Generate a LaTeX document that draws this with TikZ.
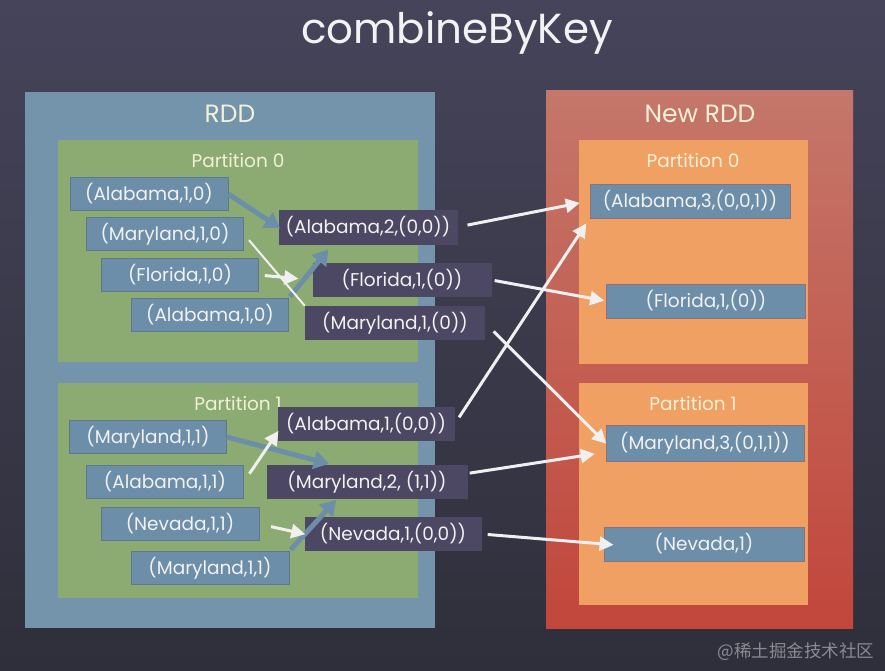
\documentclass[tikz,border=0pt]{standalone}
\usepackage{fontspec}
\setmainfont{Poppins}
\newfontfamily\cjk{Noto Sans CJK SC}
\usetikzlibrary{arrows.meta,calc}
\definecolor{bgtop}{HTML}{46445A}
\definecolor{bgbot}{HTML}{2F2F3B}
\definecolor{rddblue}{HTML}{7494AB}
\definecolor{partgreen}{HTML}{8CAB72}
\definecolor{itemblue}{HTML}{6D8EA9}
\definecolor{itemdark}{HTML}{4C4762}
\definecolor{newtop}{HTML}{C4776A}
\definecolor{newbot}{HTML}{C2463B}
\definecolor{partorange}{HTML}{EFA062}
\definecolor{labelcream}{HTML}{F2F0D8}
\definecolor{wm}{HTML}{8A8A95}
\tikzset{
  itemtext/.style={text=white!95!black, font=\fontsize{18.5}{20}\selectfont, inner sep=0pt, minimum height=33pt},
  lbox/.style={itemtext, fill=itemblue, draw=itemblue!85!black, line width=0.6pt},
  dbox/.style={itemtext, fill=itemdark},
  rbox/.style={itemtext, fill=itemblue, draw=itemblue!60!newbot, line width=0.8pt},
  plabel/.style={text=labelcream, font=\fontsize{18.5}{20}\selectfont},
  rlabel/.style={text=labelcream, font=\fontsize{25}{28}\selectfont},
  warrow/.style={draw=white!94!black, line width=3pt, -{Triangle[length=14pt,width=14pt]}},
  wline/.style={draw=white!94!black, line width=2pt},
  barrow/.style={draw=itemblue, line width=5pt, -{Triangle[length=15pt,width=18pt]}},
}
\begin{document}
\begin{tikzpicture}[x=1pt,y=-1pt]
\shade[top color=bgtop,bottom color=bgbot] (0,0) rectangle (885,670);
\useasboundingbox (0,0) rectangle (885,670);
% title
\node[text=white!95!black, font=\fontsize{42}{46}\selectfont] (title) at (457,33) {combineByKey};
% left RDD
\fill[rddblue] (25,92) rectangle (435,628);
\fill[partgreen] (58,140) rectangle (418,362);
\fill[partgreen] (58,383) rectangle (418,598);
\node[rlabel] (rddl) at (230,114) {RDD};
\node[plabel] (p0l) at (238,161) {Partition 0};
\node[plabel] (p1l) at (238,404) {Partition 1};
% right RDD
\shade[top color=newtop,bottom color=newbot] (546,90) rectangle (853,628);
\fill[partorange] (579,140) rectangle (808,364);
\fill[partorange] (579,383) rectangle (808,605);
\node[rlabel] (nrddl) at (700,114) {New RDD};
\node[plabel] (np0l) at (693,161) {Partition 0};
\node[plabel] (np1l) at (693,404) {Partition 1};
% left partition 0 items
\node[lbox, minimum width=158pt] (la1) at (149,194) {(Alabama,1,0)};
\node[lbox, minimum width=157pt] (lm1) at (165,234) {(Maryland,1,0)};
\node[lbox, minimum width=157pt] (lf1) at (180,275) {(Florida,1,0)};
\node[lbox, minimum width=157pt] (la2) at (210,315) {(Alabama,1,0)};
% left partition 1 items
\node[lbox, minimum width=157pt] (lm2) at (148,437) {(Maryland,1,1)};
\node[lbox, minimum width=157pt] (la3) at (165,482) {(Alabama,1,1)};
\node[lbox, minimum width=158pt] (ln1) at (180,524) {(Nevada,1,1)};
\node[lbox, minimum width=158pt] (lm3) at (210,568) {(Maryland,1,1)};
% dark combined items
\node[dbox, minimum width=179pt, minimum height=35pt] (da2) at (368,227) {(Alabama,2,(0,0))};
\node[dbox, minimum width=179pt, minimum height=34pt] (df1) at (402,280) {(Florida,1,(0))};
\node[dbox, minimum width=180pt, minimum height=34pt] (dm1) at (395,323) {(Maryland,1,(0))};
\node[dbox, minimum width=177pt, minimum height=34pt] (da3) at (366,424) {(Alabama,1,(0,0))};
\node[dbox, minimum width=201pt, minimum height=34pt] (dm2) at (367,482) {(Maryland,2, (1,1))};
\node[dbox, minimum width=177pt, minimum height=34pt] (dn1) at (393,534) {(Nevada,1,(0,0))};
% right items
\node[rbox, minimum width=200pt, minimum height=34pt] (ra) at (690,201) {(Alabama,3,(0,0,1))};
\node[rbox, minimum width=199pt, minimum height=34pt] (rf) at (706,301) {(Florida,1,(0))};
\node[rbox, minimum width=198pt, minimum height=36pt] (rm) at (705,443) {(Maryland,3,(0,1,1))};
\node[rbox, minimum width=200pt, minimum height=34pt] (rn) at (704,544) {(Nevada,1)};
% blue arrows
\draw[barrow, shorten >=-2pt] (la1.east) -- (da2.west);
\draw[barrow, shorten <=2pt, shorten >=6pt] (la2.north east) -- ($(da2.south west)!0.3!(da2.south east)$);
\draw[barrow, shorten >=4pt] (lm2.east) -- ($(dm2.north west)!0.33!(dm2.north east)$);
\draw[barrow, shorten <=2pt, shorten >=1pt] (lm3.north east) -- ($(dm2.south west)!0.35!(dm2.south east)$);
% white arrows inside RDD
\draw[wline, shorten <=8pt] (lm1.east) -- (dm1.north west);
\draw[warrow, shorten <=6pt, shorten >=14pt] (lf1.east) -- (df1.west);
\draw[warrow, shorten <=10pt, shorten >=-2pt] (la3.east) -- ($(da3.west)!0.5!(da3.south west)$);
\draw[warrow, shorten <=12pt, shorten >=-1pt] (ln1.east) -- (dn1.west);
% white arrows to new RDD
\draw[warrow, shorten <=10pt, shorten >=10pt] (da2.east) -- (ra.west);
\draw[warrow, shorten <=3pt, shorten >=2pt] (df1.east) -- (rf.west);
\draw[warrow, shorten <=12pt, shorten >=-1pt] (dm1.east) -- (rm.west);
\draw[warrow, shorten <=8pt, shorten >=6pt] (da3.east) -- (ra.south west);
\draw[warrow, shorten <=2pt, shorten >=11pt] ($(dm2.east)!0.5!(dm2.north east)$) -- ($(rm.west)!0.5!(rm.south west)$);
\draw[warrow, shorten <=6pt, shorten >=-10pt] (dn1.east) -- (rn.west);
% watermark
\node[text=wm, font=\cjk\fontsize{17.5}{20}\selectfont, anchor=east] (wmark) at (878,652) {@稀土掘金技术社区};
\end{tikzpicture}
\end{document}
